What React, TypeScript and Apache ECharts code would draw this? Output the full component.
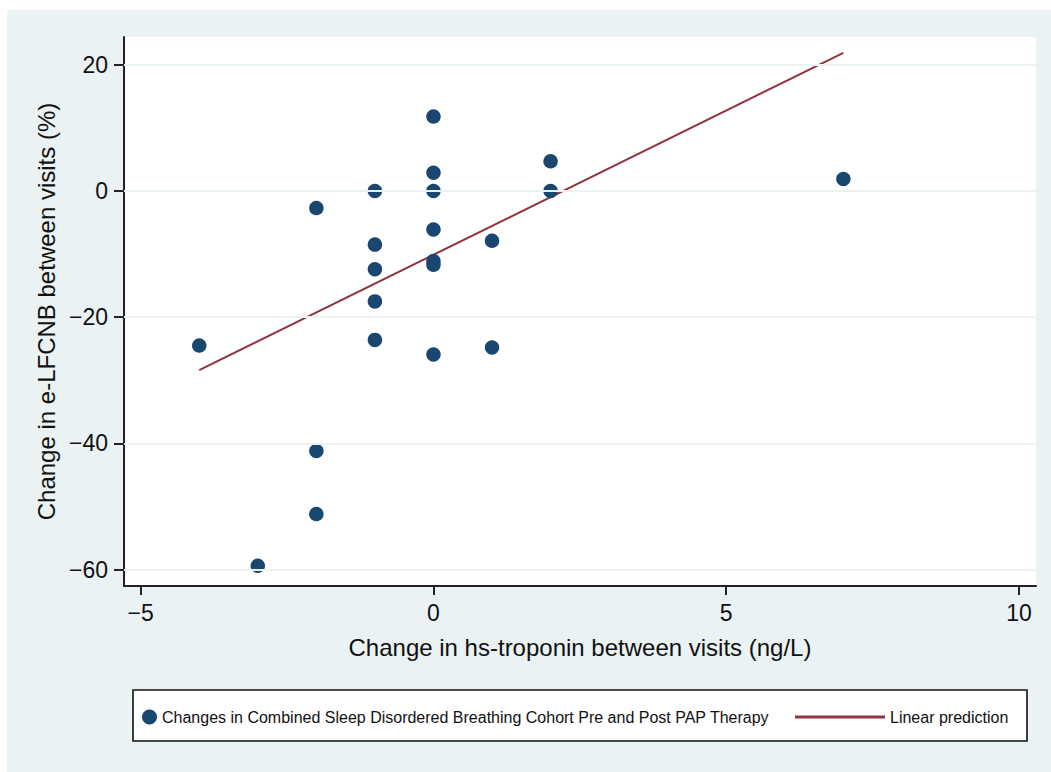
import React, { useEffect, useRef } from 'react';
import * as echarts from 'echarts';

const xTicks = [-5, 0, 5, 10];
const yTicks = [-60, -40, -20, 0, 20];

const troponinChange = [0, 2, 0, -1, 0, 2, -2, 0, -1, 1, 0, 0, -1, -1, -4, -1, 0, 1, 7, -2, -2, -3];
const lfcnbChange = [11.8, 4.7, 2.9, 0, 0, 0, -2.7, -6.1, -8.5, -7.9, -11.1, -11.7, -12.4, -17.5, -24.5, -23.6, -25.9, -24.8, 1.9, -41.2, -51.2, -59.4];

const fitX = [-4, 7];
const fitY = [-28.4, 21.9];

const scatterName = 'Changes in Combined Sleep Disordered Breathing Cohort Pre and Post PAP Therapy';
const lineName = 'Linear prediction';

const FONT = '"Liberation Sans", Arial, Helvetica, sans-serif';
const minus = (v: number | string) => String(v).replace('-', '\u2212');

export default function App() {
  const ref = useRef<HTMLDivElement>(null);
  useEffect(() => {
    document.body.style.margin = '0';
    const chart = echarts.init(ref.current!, null, { renderer: 'svg' });
    chart.setOption({
      animation: false,
      textStyle: { fontFamily: FONT },
      graphic: [
        { type: 'rect', z: -10, silent: true, shape: { x: 7, y: 10, width: 1044, height: 762 }, style: { fill: '#eaf2f3' } },
        { type: 'rect', z: 1, silent: true, shape: { x: 133, y: 690, width: 894, height: 51 }, style: { fill: '#ffffff', stroke: '#111', lineWidth: 1.6 } },
      ],
      grid: { left: 124, right: 15, top: 37, bottom: 186, show: true, backgroundColor: '#ffffff', borderWidth: 0 },
      legend: [
        {
          data: [scatterName], left: 142, top: 709, padding: 0, itemWidth: 15, itemHeight: 15, icon: 'circle',
          textStyle: { fontSize: 16, color: '#111', fontFamily: FONT }, z: 5,
        },
        {
          data: [{ name: lineName, icon: 'rect' }], left: 795, top: 709, padding: 0, itemWidth: 90, itemHeight: 3,
          itemStyle: { color: '#90353b' },
          textStyle: { fontSize: 16, color: '#111', fontFamily: FONT }, z: 5,
        },
      ],
      xAxis: {
        type: 'value', min: -5.285, max: 10.29,
        name: 'Change in hs-troponin between visits (ng/L)', nameLocation: 'middle', nameGap: 49,
        nameTextStyle: { fontSize: 24, color: '#111', fontFamily: FONT },
        axisLine: { show: true, onZero: false, lineStyle: { color: '#222', width: 2 } },
        axisTick: { show: true, length: 9, customValues: xTicks, lineStyle: { color: '#222', width: 2 } },
        axisLabel: { customValues: xTicks, margin: 15, fontSize: 23, color: '#111', fontFamily: FONT, formatter: (v: number) => minus(v) },
        splitLine: { show: false },
      },
      yAxis: {
        type: 'value', min: -62.6, max: 24.4,
        name: 'Change in e-LFCNB between visits (%)', nameLocation: 'middle', nameGap: 66, nameRotate: 90,
        nameTextStyle: { fontSize: 24, color: '#111', fontFamily: FONT },
        axisLine: { show: true, onZero: false, lineStyle: { color: '#222', width: 2 } },
        axisTick: { show: true, length: 10, customValues: yTicks, lineStyle: { color: '#222', width: 2 } },
        axisLabel: { customValues: yTicks, margin: 16, fontSize: 23, color: '#111', fontFamily: FONT, formatter: (v: number) => minus(v) },
        splitLine: { show: false },
      },
      series: [
        {
          name: 'gridlines', type: 'line', data: [], z: 1, silent: true,
          markLine: {
            silent: true, symbol: 'none', label: { show: false },
            lineStyle: { color: '#eaf2f3', width: 2, type: 'solid' },
            data: yTicks.map((v) => ({ yAxis: v })),
          },
        },
        {
          name: lineName, type: 'line', z: 3, symbol: 'none', showSymbol: false,
          lineStyle: { color: '#90353b', width: 2 }, itemStyle: { color: '#90353b' },
          data: fitX.map((x, i) => [x, fitY[i]]),
        },
        {
          name: scatterName, type: 'scatter', z: 4, symbol: 'circle', symbolSize: 14.5,
          itemStyle: { color: '#1a476f', opacity: 1 },
          data: troponinChange.map((x, i) => [x, lfcnbChange[i]]),
        },
      ],
    });
    return () => chart.dispose();
  }, []);
  return <div ref={ref} style={{ width: 1051, height: 772 }} />;
}
